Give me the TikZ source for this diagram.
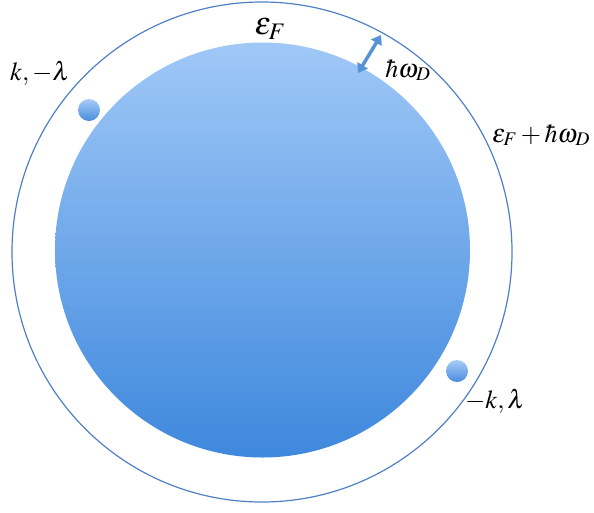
\documentclass[tikz,border=0pt]{standalone}
\usepackage{mathptmx}
\usetikzlibrary{arrows.meta}
\definecolor{rimblue}{RGB}{80,128,196}
\definecolor{topblue}{RGB}{160,200,247}
\definecolor{botblue}{RGB}{62,136,221}
\definecolor{balltop}{RGB}{168,204,246}
\definecolor{ballbot}{RGB}{72,140,222}
\definecolor{arrblue}{RGB}{86,146,214}
\begin{document}
\begin{tikzpicture}[x=1pt,y=-1pt,
  lbl/.style={inner sep=0pt, font=\fontsize{26}{30}\selectfont},
  biglbl/.style={inner sep=0pt, font=\fontsize{32}{36}\selectfont\boldmath},
  ring/.style={circle, draw=rimblue, line width=1.2pt, inner sep=0pt},
  sea/.style={circle, inner sep=0pt, top color=topblue, bottom color=botblue},
  pairball/.style={circle, inner sep=0pt, minimum size=22pt, top color=balltop, bottom color=ballbot}]
\useasboundingbox (0,0) rectangle (594,512);
\node[ring, minimum size=500pt] (outer) at (262,252) {};
\node[sea, minimum size=415pt] (inner) at (262.5,250) {};
\node[pairball] (b1) at (89,110) {};
\node[pairball] (b2) at (457,371) {};
\coordinate (alo) at (358,73);
\coordinate (ahi) at (381,35);
\draw[arrblue, line width=3.5pt, {Triangle[length=9pt,width=12pt]}-{Triangle[length=9pt,width=12pt]}] (alo) -- (ahi);
\node[biglbl] (ef) at (270,29) {$\varepsilon_F$};
\node[lbl] (hw) at (408,70) {$\hbar\omega_D$};
\node[lbl] (kl) at (40,73) {$k,-\lambda$};
\node[lbl] (mkl) at (495,401) {$-k,\lambda$};
\node[lbl] (efhw) at (541,135) {$\varepsilon_F+\hbar\omega_D$};
\end{tikzpicture}
\end{document}
